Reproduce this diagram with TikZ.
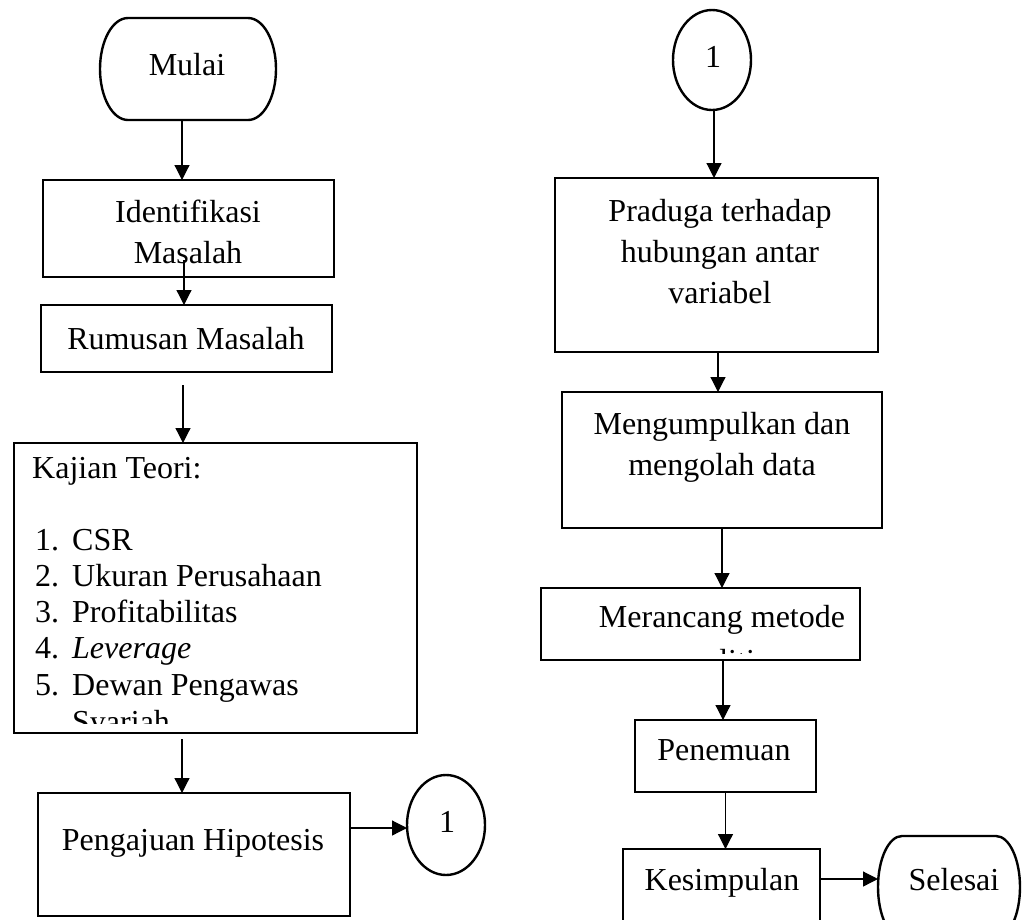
\documentclass[tikz,border=0pt]{standalone}
\usepackage{fontspec}
\setmainfont{Liberation Serif}
\usetikzlibrary{shapes.geometric,arrows.meta}
\begin{document}
\begin{tikzpicture}[x=1pt,y=-1pt,
  box/.style={draw,line width=2.4pt,rectangle,inner sep=0pt,outer sep=0pt},
  ghost/.style={rectangle,inner sep=0pt,outer sep=0pt},
  term/.style={line width=2.4pt},
  txt/.style={font=\fontsize{32}{40}\selectfont,inner sep=0pt,anchor=base},
  ltxt/.style={font=\fontsize{32}{40}\selectfont,inner sep=0pt,anchor=base west},
  arr/.style={line width=1.2pt,-{Triangle[length=15pt,width=15pt]}},
  conn/.style={draw,line width=2.4pt,ellipse,inner sep=0pt,outer sep=0pt,minimum width=78pt,minimum height=100pt}]
\useasboundingbox (0,0) rectangle (1023,919);
\clip (0,0) rectangle (1023,919);

% ---------- left column ----------
\node[ghost,minimum width=176pt,minimum height=102pt] (mulai) at (188,69) {};
\draw[term] (128,18) -- (248,18) .. controls (263.5,18) and (276,40.9) .. (276,69)
  .. controls (276,97.1) and (263.5,120) .. (248,120) -- (128,120)
  .. controls (112.5,120) and (100,97.1) .. (100,69)
  .. controls (100,40.9) and (112.5,18) .. (128,18) -- cycle;
\node[txt] (tmulai) at (187,75) {Mulai};

\node[box,minimum width=291pt,minimum height=97pt] (ident) at (188.5,228.5) {};
\node[txt] (tident1) at (188,222) {Identifikasi};
\node[txt] (tident2) at (188,263) {Masalah};

\node[box,minimum width=291pt,minimum height=67pt] (rumus) at (186.5,338.5) {};
\node[txt] (trumus) at (186,349) {Rumusan Masalah};

\node[box,minimum width=403pt,minimum height=290pt] (kajian) at (215.5,588) {};
\begin{scope}
\clip (16,445) rectangle (415,723);
\node[ltxt] (tkaj) at (32,478) {Kajian Teori:};
\node[ltxt] (n1) at (35,550) {1.};
\node[ltxt] (i1) at (72,550) {CSR};
\node[ltxt] (n2) at (35,586) {2.};
\node[ltxt] (i2) at (72,586) {Ukuran Perusahaan};
\node[ltxt] (n3) at (35,622) {3.};
\node[ltxt] (i3) at (72,622) {Profitabilitas};
\node[ltxt] (n4) at (35,658) {4.};
\node[ltxt] (i4) at (72,658) {\itshape Leverage};
\node[ltxt] (n5) at (35,695) {5.};
\node[ltxt] (i5) at (72,695) {Dewan Pengawas};
\node[ltxt] (i5b) at (72,732) {Syariah};
\end{scope}

\node[box,minimum width=312pt,minimum height=123pt] (aju) at (194,854.5) {};
\node[txt] (taju) at (193,850) {Pengajuan Hipotesis};

\node[conn] (c1b) at (446,825) {};
\node[txt] (tc1b) at (447,832) {1};

% ---------- right column ----------
\node[conn] (c1t) at (712,60) {};
\node[txt] (tc1t) at (713,67) {1};

\node[box,minimum width=323pt,minimum height=174pt] (praduga) at (716.5,265) {};
\node[txt] (tp1) at (720,221) {Praduga terhadap};
\node[txt] (tp2) at (720,262) {hubungan antar};
\node[txt] (tp3) at (720,303) {variabel};

\node[box,minimum width=320pt,minimum height=136pt] (kumpul) at (722,460) {};
\node[txt] (tk1) at (722,434) {Mengumpulkan dan};
\node[txt] (tk2) at (722,475) {mengolah data};

\node[box,minimum width=319pt,minimum height=72pt] (rancang) at (700.5,624) {};
\begin{scope}
\clip (542,590) rectangle (858,653);
\node[txt] (tr1) at (722,627) {Merancang metode};
\node[txt] (tr2) at (722,671) {penelitian};
\end{scope}

\node[box,minimum width=181pt,minimum height=72pt] (temu) at (725.5,756) {};
\node[txt] (ttemu) at (724,760) {Penemuan};

\node[box,minimum width=197pt,minimum height=110pt] (simpul) at (721.5,904) {};
\node[txt] (tsimpul) at (722,890) {Kesimpulan};

\node[ghost,minimum width=142pt,minimum height=102pt] (selesai) at (949,887) {};
\draw[term] (902,836) -- (996,836) .. controls (1009.2,836) and (1020,858.9) .. (1020,887)
  .. controls (1020,915.1) and (1009.2,938) .. (996,938) -- (902,938)
  .. controls (888.8,938) and (878,915.1) .. (878,887)
  .. controls (878,858.9) and (888.8,836) .. (902,836) -- cycle;
\node[txt] (tselesai) at (954,890) {Selesai};

% ---------- connectors ----------
\draw[arr] ([xshift=-6pt]mulai.south) -- ([xshift=-6pt]mulai.south |- ident.north);
\draw[arr] ([xshift=-4.5pt,yshift=17pt]ident.south) -- ([xshift=-4.5pt]ident.south |- rumus.north);
\draw[arr] ([xshift=-3.5pt,yshift=-13pt]rumus.south) -- ([xshift=-3.5pt]rumus.south |- kajian.north);
\draw[arr] ([xshift=-33.5pt,yshift=-6pt]kajian.south) -- ([xshift=-33.5pt]kajian.south |- aju.north);
\draw[arr] ([yshift=26.5pt]aju.east) -- ([yshift=26.5pt]aju.east -| c1b.west);

\draw[arr] ([xshift=2pt]c1t.south) -- ([xshift=2pt]c1t.south |- praduga.north);
\draw[arr] ([xshift=1.5pt]praduga.south) -- ([xshift=1.5pt]praduga.south |- kumpul.north);
\draw[arr] (kumpul.south) -- (kumpul.south |- rancang.north);
\draw[arr] ([xshift=22.5pt]rancang.south) -- ([xshift=22.5pt]rancang.south |- temu.north);
\draw[arr] (temu.south) -- (temu.south |- simpul.north);
\draw[arr] ([yshift=25pt]simpul.east) -- ([yshift=25pt]simpul.east -| selesai.west);
\end{tikzpicture}
\end{document}
